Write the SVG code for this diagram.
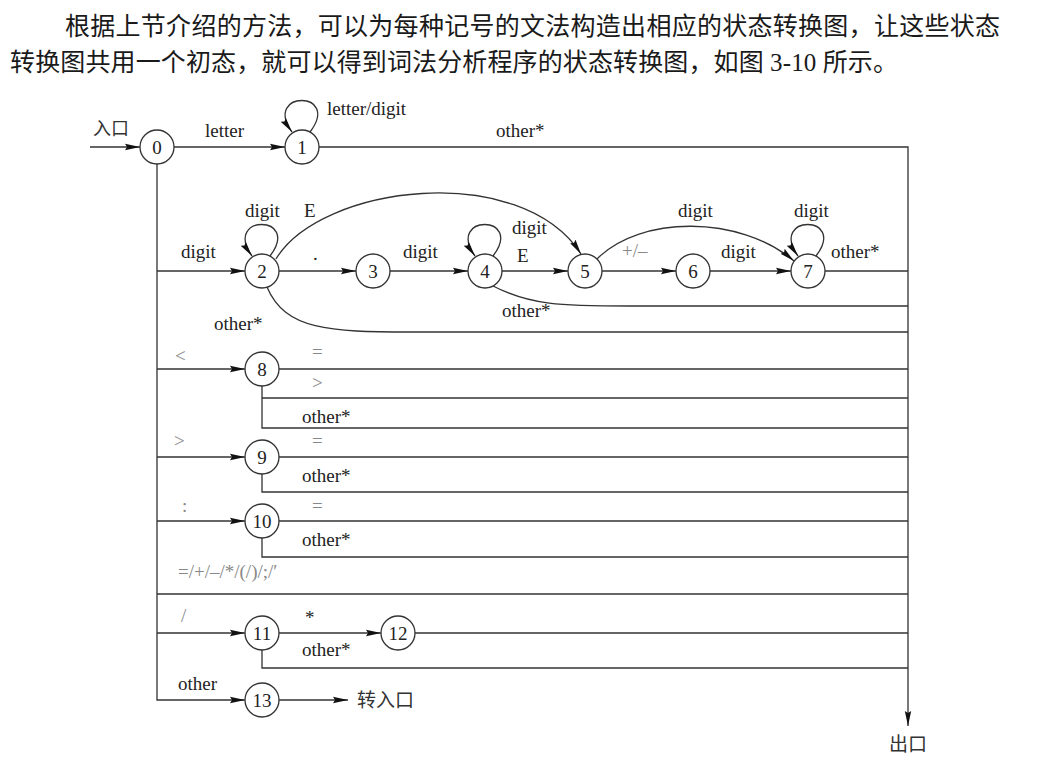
<svg xmlns="http://www.w3.org/2000/svg" width="1037" height="759" viewBox="0 0 1037 759">
<style>
.bg{fill:#ffffff}
.para{font-family:"Liberation Serif","Noto Sans CJK SC",serif;font-size:25px;fill:#1a1a1a}
.lbl{font-family:"Liberation Serif","Noto Sans CJK SC",serif;font-size:19px;fill:#222}
.gray{fill:#888}
.cjk{font-family:"Noto Sans CJK SC",sans-serif;font-size:18px;fill:#333}
.node circle{fill:#fff;stroke:#333;stroke-width:1.3}
.node text{font-family:"Liberation Serif",serif;font-size:19px;fill:#222;text-anchor:middle}
.edges path{fill:none;stroke:#333;stroke-width:1.3}
</style>
<defs>
<marker id="arr" markerUnits="userSpaceOnUse" markerWidth="15" markerHeight="8" refX="15" refY="4" orient="auto">
<path d="M0,0.8 L15,4 L0,7.2 L2,4 z" fill="#111"/>
</marker>
</defs>
<rect class="bg" x="0" y="0" width="1037" height="759"/>
<text class="para" x="65" y="35" textLength="935" lengthAdjust="spacing">根据上节介绍的方法，可以为每种记号的文法构造出相应的状态转换图，让这些状态</text>
<text class="para" x="10" y="71" textLength="888" lengthAdjust="spacing">转换图共用一个初态，就可以得到词法分析程序的状态转换图，如图 3-10 所示。</text>

<g class="edges">
<path d="M90,147 L140,147" marker-end="url(#arr)"/>
<path d="M174,147 L285,147" marker-end="url(#arr)"/>
<path d="M310,132 C342,90 262,90 292,132" marker-end="url(#arr)"/>
<path d="M319,147 L908,147 L908,726" marker-end="url(#arr)"/>
<path d="M157,164 L157,700 L245,700" marker-end="url(#arr)"/>
<path d="M157,271 L245,271" marker-end="url(#arr)"/>
<path d="M270,256 C302,214 222,214 252,256" marker-end="url(#arr)"/>
<path d="M276,259 C320,185 520,160 581,254" marker-end="url(#arr)"/>
<path d="M279,271 L356,271" marker-end="url(#arr)"/>
<path d="M390,271 L468,271" marker-end="url(#arr)"/>
<path d="M493,256 C525,214 445,214 475,256" marker-end="url(#arr)"/>
<path d="M502,271 L568,271" marker-end="url(#arr)"/>
<path d="M602,271 L676,271" marker-end="url(#arr)"/>
<path d="M597,259 C640,215 740,215 794,261" marker-end="url(#arr)"/>
<path d="M710,271 L791,271" marker-end="url(#arr)"/>
<path d="M816,256 C848,214 768,214 798,256" marker-end="url(#arr)"/>
<path d="M825,271 L908,271"/>
<path d="M493,286 C530,305 560,306 630,306 L908,306"/>
<path d="M267,287 C285,330 330,332 410,332 L908,332"/>
<path d="M157,369 L245,369" marker-end="url(#arr)"/>
<path d="M279,369 L908,369"/>
<path d="M262,386 L262,428 L908,428"/>
<path d="M262,398 L908,398"/>
<path d="M157,457 L245,457" marker-end="url(#arr)"/>
<path d="M279,457 L908,457"/>
<path d="M262,474 L262,492 L908,492"/>
<path d="M157,521 L245,521" marker-end="url(#arr)"/>
<path d="M279,521 L908,521"/>
<path d="M262,538 L262,557 L908,557"/>
<path d="M157,594 L908,594"/>
<path d="M157,633 L245,633" marker-end="url(#arr)"/>
<path d="M279,633 L381,633" marker-end="url(#arr)"/>
<path d="M415,633 L908,633"/>
<path d="M262,650 L262,668 L908,668"/>
<path d="M279,700 L348,700" marker-end="url(#arr)"/>
</g>

<g id="n0" class="node"><circle cx="157" cy="147" r="17"/><text x="157" y="153.5">0</text></g>
<g id="n1" class="node"><circle cx="302" cy="147" r="17"/><text x="302" y="153.5">1</text></g>
<g id="n2" class="node"><circle cx="262" cy="271" r="17"/><text x="262" y="277.5">2</text></g>
<g id="n3" class="node"><circle cx="373" cy="271" r="17"/><text x="373" y="277.5">3</text></g>
<g id="n4" class="node"><circle cx="485" cy="271" r="17"/><text x="485" y="277.5">4</text></g>
<g id="n5" class="node"><circle cx="585" cy="271" r="17"/><text x="585" y="277.5">5</text></g>
<g id="n6" class="node"><circle cx="693" cy="271" r="17"/><text x="693" y="277.5">6</text></g>
<g id="n7" class="node"><circle cx="808" cy="271" r="17"/><text x="808" y="277.5">7</text></g>
<g id="n8" class="node"><circle cx="262" cy="369" r="17"/><text x="262" y="375.5">8</text></g>
<g id="n9" class="node"><circle cx="262" cy="457" r="17"/><text x="262" y="463.5">9</text></g>
<g id="n10" class="node"><circle cx="262" cy="521" r="17"/><text x="262" y="527.5">10</text></g>
<g id="n11" class="node"><circle cx="262" cy="633" r="17"/><text x="262" y="639.5">11</text></g>
<g id="n12" class="node"><circle cx="398" cy="633" r="17"/><text x="398" y="639.5">12</text></g>
<g id="n13" class="node"><circle cx="262" cy="700" r="17"/><text x="262" y="706.5">13</text></g>

<g id="labels">
<text class="cjk" x="93" y="135">入口</text>
<text class="lbl" x="205" y="137">letter</text>
<text class="lbl" x="327" y="115">letter/digit</text>
<text class="lbl" x="496" y="137">other*</text>
<text class="lbl" x="181" y="258">digit</text>
<text class="lbl" x="245" y="217">digit</text>
<text class="lbl" x="304" y="217">E</text>
<text class="lbl" x="313" y="260">.</text>
<text class="lbl" x="403" y="258">digit</text>
<text class="lbl" x="512" y="234">digit</text>
<text class="lbl" x="517" y="262">E</text>
<text class="lbl gray" x="622" y="257">+/–</text>
<text class="lbl" x="678" y="217">digit</text>
<text class="lbl" x="721" y="258">digit</text>
<text class="lbl" x="794" y="217">digit</text>
<text class="lbl" x="831" y="258">other*</text>
<text class="lbl" x="502" y="317">other*</text>
<text class="lbl" x="214" y="330">other*</text>
<text class="lbl gray" x="175" y="362">&lt;</text>
<text class="lbl gray" x="312" y="358">=</text>
<text class="lbl gray" x="312" y="389">&gt;</text>
<text class="lbl" x="302" y="423">other*</text>
<text class="lbl gray" x="174" y="447">&gt;</text>
<text class="lbl gray" x="312" y="447">=</text>
<text class="lbl" x="302" y="482">other*</text>
<text class="lbl gray" x="182" y="512">:</text>
<text class="lbl gray" x="312" y="512">=</text>
<text class="lbl" x="302" y="546">other*</text>
<text class="lbl gray" x="178" y="578">=/+/–/*/(/)/;/′</text>
<text class="lbl gray" x="181" y="622">/</text>
<text class="lbl" x="305" y="624">*</text>
<text class="lbl" x="302" y="656">other*</text>
<text class="lbl" x="178" y="690">other</text>
<text class="cjk" x="357" y="707" style="font-size:19px">转入口</text>
<text class="cjk" x="889" y="751" style="font-size:19px">出口</text>
</g>
</svg>
